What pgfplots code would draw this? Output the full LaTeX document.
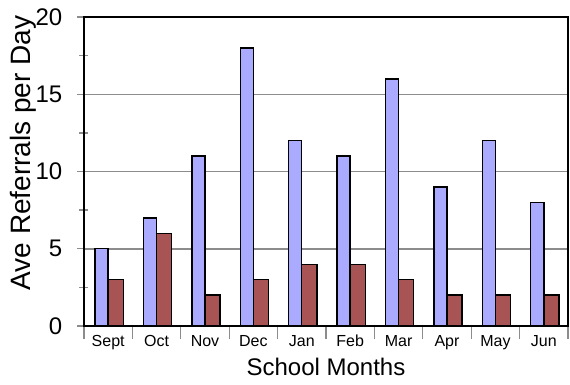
\documentclass[border=0pt]{standalone}
\usepackage{fontspec}
\setmainfont{Liberation Sans}
\usepackage{pgfplots}
\pgfplotsset{compat=1.18}
\definecolor{barblue}{RGB}{170,170,255}
\definecolor{barred}{RGB}{168,84,84}
\definecolor{gridgray}{RGB}{140,140,140}
\begin{document}
\begin{tikzpicture}
\useasboundingbox (0,0) rectangle (570pt,384pt);
\begin{axis}[
  at={(84pt,58pt)}, anchor=south west,
  scale only axis, width=484pt, height=309pt,
  xmin=-0.5, xmax=9.5, ymin=0, ymax=20,
  xtick={-0.5,0.5,...,9.5},
  xticklabels={},
  extra x ticks={0,...,9},
  extra x tick labels={Sept,Oct,Nov,Dec,Jan,Feb,Mar,Apr,May,Jun},
  extra x tick style={tick style={draw=none}},
  ytick={0,5,...,20},
  minor ytick={2.5,7.5,...,17.5},
  tick align=center,
  major tick length=13pt,
  minor tick length=9pt,
  x tick style={gridgray, line width=1.3pt},
  y tick style={gridgray, line width=1.3pt},
  minor y tick style={gridgray, line width=1.3pt},
  tick pos=left,
  ymajorgrids,
  grid style={gridgray, line width=1.5pt},
  axis line style={black, line width=1.5pt},
  /pgf/number format/assume math mode=true,
  yticklabel style={font=\fontsize{24}{24}\selectfont, anchor=east, inner sep=0pt, xshift=-15pt},
  xticklabel style={font=\fontsize{16}{16}\selectfont, anchor=base, inner sep=0pt, yshift=-7pt},
  xlabel={School Months},
  ylabel={Ave Referrals per Day},
  xlabel style={font=\fontsize{24}{24}\selectfont, at={(axis description cs:0.5,-0.133)}, anchor=center},
  ylabel style={font=\fontsize{28}{28}\selectfont, at={(axis description cs:-0.126,0.56)}, anchor=center},
  ybar, bar width=14pt,
  clip=false,
]
\addplot[fill=barblue, draw=black, line width=1.4pt, bar shift=-6.5pt, bar width=13pt]
  coordinates {(0,5) (1,7) (2,11) (3,18) (4,12) (5,11) (6,16) (7,9) (8,12) (9,8)};
\addplot[fill=barred, draw=black, line width=1.4pt, bar shift=7.5pt, bar width=15pt]
  coordinates {(0,3) (1,6) (2,2) (3,3) (4,4) (5,4) (6,3) (7,2) (8,2) (9,2)};
\end{axis}
\end{tikzpicture}
\end{document}
